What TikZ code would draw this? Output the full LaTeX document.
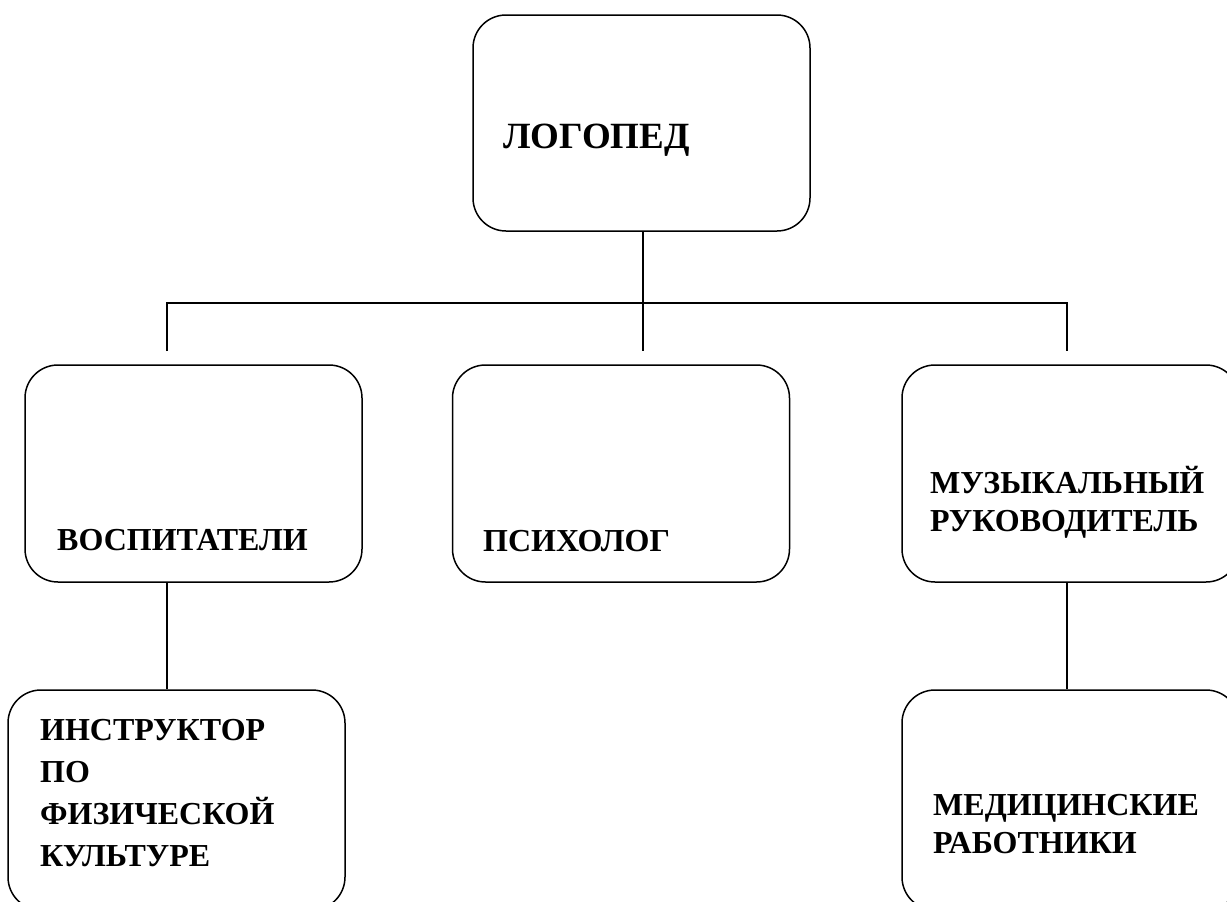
\documentclass[tikz,border=0pt]{standalone}
\usepackage{fontspec}
\setmainfont{Liberation Serif}
\begin{document}
\begin{tikzpicture}[x=1pt,y=1pt,
  box/.style={draw=black, line width=1.5pt, rounded corners=33pt, minimum width=337pt, inner sep=0pt},
  conn/.style={draw=black, line width=1.3pt},
  lbl/.style={anchor=base west, inner sep=0pt, align=left, font=\bfseries\fontsize{32}{38}\selectfont}]
\useasboundingbox (0,0) rectangle (1227,-902);
\clip (0,0) rectangle (1227,-902);
\fill[white] (0,0) rectangle (1227,-902);
% boxes
\node[box, minimum height=216pt] (top)  at (641.5,-123) {};
\node[box, minimum height=217pt] (midL) at (193.5,-473.5) {};
\node[box, minimum height=217pt] (midM) at (621,-473.5) {};
\node[box, minimum height=217pt] (midR) at (1070.5,-473.5) {};
\node[box, minimum height=220pt] (botL) at (176.5,-800) {};
\node[box, minimum height=220pt] (botR) at (1070.5,-800) {};
% texts (multi-line nodes: base = last line's baseline)
\node[lbl, font=\bfseries\fontsize{37}{44}\selectfont] (tTop) at (503,-148) {ЛОГОПЕД};
\node[lbl] (tMidL) at (57,-550) {ВОСПИТАТЕЛИ};
\node[lbl] (tMidM) at (483,-551) {ПСИХОЛОГ};
\node[lbl] (tMidR) at (930,-531) {МУЗЫКАЛЬНЫЙ\\РУКОВОДИТЕЛЬ};
\node[lbl, font=\bfseries\fontsize{32}{41.7}\selectfont] (tBotL) at (40,-866) {ИНСТРУКТОР\\ПО\\ФИЗИЧЕСКОЙ\\КУЛЬТУРЕ};
\node[lbl] (tBotR) at (933,-853) {МЕДИЦИНСКИЕ\\РАБОТНИКИ};
% junction coordinates
\coordinate (jL) at (167,-303);
\coordinate (jM) at (643,-303);
\coordinate (jR) at (1067,-303);
\coordinate (eL) at (167,-351);
\coordinate (eM) at (643,-351);
\coordinate (eR) at (1067,-351);
% connectors
\draw[conn] (top.south -| jM) -- (jM) -- (eM);
\draw[conn] (eL) -- (jL) -- (jR) -- (eR);
\draw[conn] (midL.south -| jL) -- (botL.north -| jL);
\draw[conn] (midR.south -| jR) -- (botR.north -| jR);
\end{tikzpicture}
\end{document}
